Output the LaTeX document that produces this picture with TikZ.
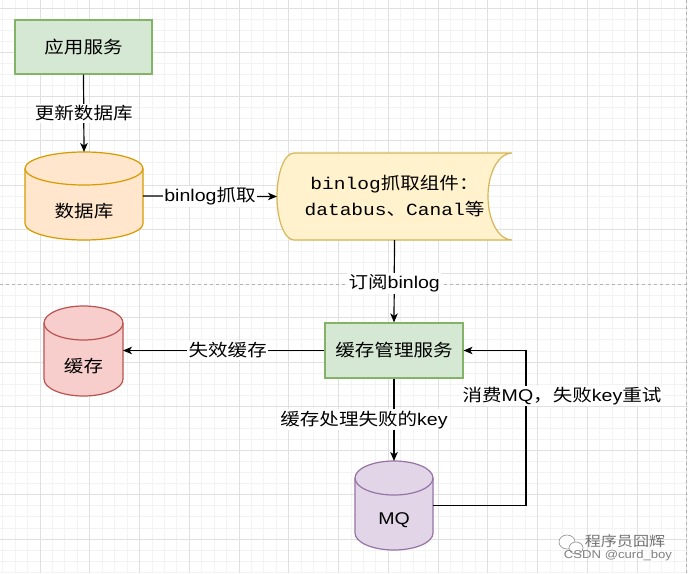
\documentclass[tikz,border=0pt]{standalone}
\usepackage{fontspec}
\setmainfont{Liberation Sans}[FakeStretch=1.15]
\newfontfamily\cjk{Noto Sans CJK SC}[FakeStretch=1.15]
\newfontfamily\monof{Liberation Mono}[FakeStretch=1.15]
\usetikzlibrary{arrows.meta}
\definecolor{gfill}{HTML}{D5E8D4}\definecolor{gdraw}{HTML}{82B366}
\definecolor{ofill}{HTML}{FFE6CC}\definecolor{odraw}{HTML}{D79B00}
\definecolor{yfill}{HTML}{FFF2CC}\definecolor{ydraw}{HTML}{D6B656}
\definecolor{rfill}{HTML}{F8CECC}\definecolor{rdraw}{HTML}{B85450}
\definecolor{pfill}{HTML}{E1D5E7}\definecolor{pdraw}{HTML}{9673A6}
\definecolor{minorg}{HTML}{F3F3F3}\definecolor{majorg}{HTML}{E0E0E0}
\newcommand\fsz{\fontsize{17}{20}\selectfont}
\newcommand\drawcyl[6]{%
  \pgfmathsetmacro\cylrx{(#3-#2)/2}%
  \path[#1] (#2,#4+#6) -- (#2,#5-#6) arc[start angle=180,end angle=0,x radius=\cylrx,y radius=#6] -- (#3,#4+#6) arc[start angle=0,end angle=-180,x radius=\cylrx,y radius=#6] -- cycle;
  \path[#1,fill=none] (#2,#4+#6) arc[start angle=180,end angle=0,x radius=\cylrx,y radius=#6];
}
\tikzset{
  minorline/.style={draw=minorg,line width=0.8pt},
  majorline/.style={draw=majorg,line width=1pt},
  pagebreak/.style={draw=black!30,line width=0.8pt,dash pattern=on 3pt off 3pt},
  box/.style={rectangle,line width=1.2pt,inner sep=0pt,font=\fsz\cjk},
  anchorbox/.style={rectangle,draw=none,inner sep=0pt,outer sep=0pt},
  txt/.style={inner sep=0pt,font=\fsz\cjk},
  lbl/.style={fill=white,inner sep=1.5pt,font=\fsz},
  arr/.style={draw=black,line width=1.2pt,-{Stealth[length=9pt,width=7.5pt,inset=2.5pt]}},
}
\begin{document}
\begin{tikzpicture}[x=1pt,y=-1pt]
\useasboundingbox (0,0) rectangle (688,573);
\fill[white] (0,0) rectangle (688,573);
% grid
\foreach \i in {-3,...,52} \draw[minorline] ({40+\i*12.4375},0) -- ++(0,573);
\foreach \j in {-1,...,51} \draw[minorline] (0,{8+\j*11.0625}) -- ++(688,0);
\foreach \i in {0,...,13} \draw[majorline] ({40+\i*49.75},0) -- ++(0,573);
\foreach \j in {0,...,12} \draw[majorline] (0,{8+\j*44.25}) -- ++(688,0);
\draw[pagebreak] (0,284) -- (688,284);
\draw[pagebreak] (686.5,0) -- (686.5,573);

% app service
\node[box,fill=gfill,draw=gdraw,minimum width=137,minimum height=54] (app) at (83.5,47) {应用服务};
% database cylinder
\drawcyl{fill=ofill,draw=odraw,line width=1.2pt}{25}{143}{152}{240}{16.5}
\node[anchorbox,minimum width=118,minimum height=88] (db) at (84,196) {};
\node[txt] (dbt) at (84,211) {数据库};
% binlog stored data shape
\path[fill=yfill,draw=ydraw,line width=1.2pt] (294,153) -- (512,153)
  arc[start angle=270,end angle=90,x radius=24,y radius=43.5] -- (294,240)
  arc[start angle=90,end angle=270,x radius=17,y radius=43.5] -- cycle;
\node[anchorbox,minimum width=235,minimum height=87,align=center,
  font=\fontsize{17}{26}\selectfont\monof] (bl) at (394.5,196.5)
  {binlog{\cjk 抓取组件：}\\databus{\cjk 、}Canal{\cjk 等}};
% cache management service
\node[box,fill=gfill,draw=gdraw,minimum width=138,minimum height=55] (cms) at (394,350.5) {缓存管理服务};
% cache cylinder
\drawcyl{fill=rfill,draw=rdraw,line width=1.2pt}{44}{123}{306}{396}{17}
\node[anchorbox,minimum width=79,minimum height=90] (cache) at (83.5,351) {};
\node[txt] (cachet) at (83.5,366) {缓存};
% MQ cylinder
\drawcyl{fill=pfill,draw=pdraw,line width=1.2pt}{355}{433}{461}{550}{17}
\node[anchorbox,minimum width=78,minimum height=89] (mq) at (394,505.5) {};
\node[txt,font=\fsz] (mqt) at (394,520) {MQ};

% connectors
\draw[arr] (app.south) -- (db.north) node[lbl,midway] {\cjk 更新数据库};
\draw[arr] (db.east) -- (bl.west) node[lbl,midway] {binlog{\cjk 抓取}};
\draw[arr] (bl.south) -- (cms.north) node[lbl,pos=0.53] {{\cjk 订阅}binlog};
\draw[arr] (cms.west) -- (cms.west -| cache.east) node[lbl,pos=0.48] {\cjk 失效缓存};
\draw[arr] (cms.south) -- (mq.north) node[lbl,midway,xshift=-30] {{\cjk 缓存处理失败的}key};
\coordinate (rx) at (526,0);
\draw[arr] (mq.east) -- (mq.east -| rx) |- (cms.east);
\node[lbl] (retry) at (562,396) {{\cjk 消费}MQ{\cjk ，失败}key{\cjk 重试}};

% watermark
\draw[black!45,fill=white,line width=0.6pt] (567,542) ellipse [x radius=8,y radius=7];
\draw[black!45,fill=white,line width=0.6pt] (576,548) ellipse [x radius=7,y radius=6];
\node[inner sep=0pt,text=black!55,font=\fontsize{14}{16}\selectfont\cjk] (wm1) at (625,541) {程序员囧辉};
\node[inner sep=0pt,text=black!50,font=\fontsize{11.4}{13}\selectfont] (wm2) at (618,556) {CSDN @curd\_boy};
\end{tikzpicture}
\end{document}
